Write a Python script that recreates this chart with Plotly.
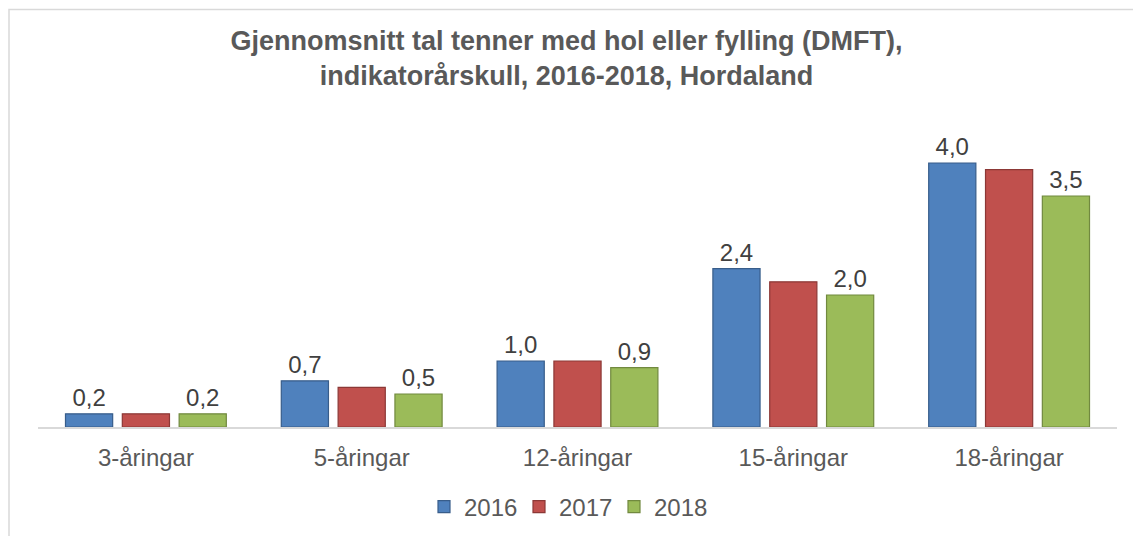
import plotly.graph_objects as go

categories = ["3-åringar", "5-åringar", "12-åringar", "15-åringar", "18-åringar"]
years = ["2016", "2017", "2018"]
values_2016 = [0.2, 0.7, 1.0, 2.4, 4.0]
values_2017 = [0.2, 0.6, 1.0, 2.2, 3.9]
values_2018 = [0.2, 0.5, 0.9, 2.0, 3.5]
show_labels = [True, False, True]

series = [values_2016, values_2017, values_2018]
fills = ["#4F81BD", "#C0504D", "#9BBB59"]
edges = ["#385D8A", "#8C3836", "#71893F"]

def fmt(v):
    return f"{v:.1f}".replace(".", ",")

fig = go.Figure()
for name, vals, fc, ec, lab in zip(years, series, fills, edges, show_labels):
    fig.add_trace(go.Bar(
        x=categories, y=vals, name=name,
        marker=dict(color=fc, line=dict(color=ec, width=1.2)),
        text=[fmt(v) for v in vals] if lab else None,
        textposition="outside" if lab else "none",
        textfont=dict(family="Liberation Sans, Arial, sans-serif", size=24, color="#404040"),
        cliponaxis=False,
    ))

fig.update_layout(
    width=1133, height=536,
    paper_bgcolor="white", plot_bgcolor="white",
    margin=dict(l=38, r=16, t=130, b=109, autoexpand=False),
    barmode="group", bargap=0.21, bargroupgap=0.17,
    font=dict(family="Liberation Sans, Arial, sans-serif", color="#595959"),
    title=dict(
        text="Gjennomsnitt tal tenner med hol eller fylling (DMFT),<br>indikatorårskull, 2016-2018, Hordaland",
        x=0.5, xanchor="center", xref="container",
        y=0.907, yanchor="middle",
        font=dict(family="Liberation Sans, Arial, sans-serif", size=27, color="#595959", weight="bold"),
    ),
    xaxis=dict(
        showline=True, linecolor="#D9D9D9", linewidth=2, automargin=False,
        showgrid=False, ticks="", ticklabelstandoff=8,
        tickfont=dict(size=24, color="#595959"),
    ),
    yaxis=dict(range=[0, 4.5], visible=False),
    legend=dict(
        orientation="h", x=0.5, xanchor="center", xref="container",
        y=1 - 507 / 536, yanchor="middle", yref="container",
        font=dict(size=24, color="#595959"),
        itemwidth=30, traceorder="normal", entrywidth=50,
    ),
    showlegend=True,
)

fig.add_shape(
    type="rect", xref="paper", yref="paper",
    x0=(9 - 38) / 1079, x1=(1145 - 38) / 1079,
    y0=-0.45, y1=(427 - 9.5) / 297,
    line=dict(color="#D9D9D9", width=1.5), fillcolor="rgba(0,0,0,0)", layer="below",
)

fig.write_html("out.html", config={"displayModeBar": False},
               post_script="document.body.style.margin='0';")
